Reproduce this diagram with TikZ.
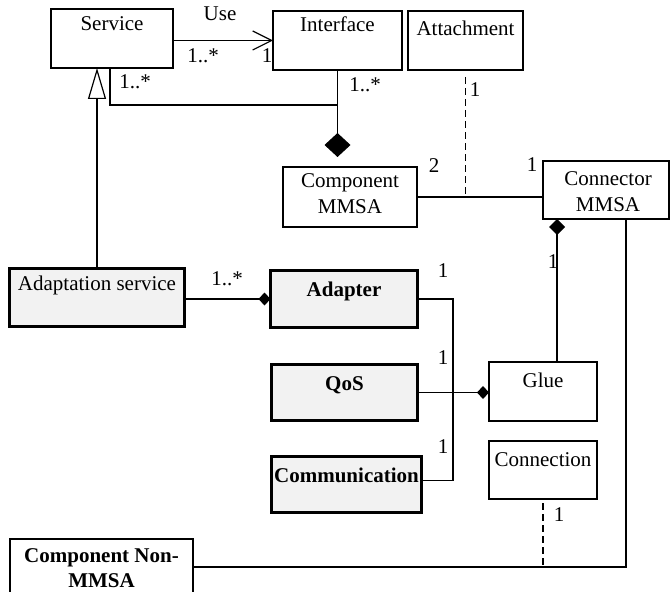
\documentclass[tikz,border=0pt]{standalone}
\usepackage{fontspec}
\setmainfont{Liberation Serif}
\usetikzlibrary{arrows.meta}
\tikzset{
  box/.style={draw,line width=1.2bp,inner sep=0pt,outer sep=0pt},
  hbox/.style={draw,line width=3bp,fill=black!5,inner sep=0pt,outer sep=0pt},
  txt/.style={anchor=base,inner sep=0pt,align=center},
  btxt/.style={txt,font=\fontsize{21bp}{25bp}\selectfont\bfseries},
  mult/.style={anchor=base,inner sep=0pt},
  conn/.style={line width=1.2bp},
  comp/.style={conn,-{Diamond[length=12bp,width=13bp]}},
}
\begin{document}
\begin{tikzpicture}[x=1bp,y=-1bp,font=\fontsize{21bp}{25bp}\selectfont]
  \useasboundingbox (0,0) rectangle (671,592);
  %% classes
  \node (Service) at (112,38.5) [box,minimum width=122bp,minimum height=59bp] {};
  \node (Interface) at (337.5,40.5) [box,minimum width=129bp,minimum height=59bp] {};
  \node (Attachment) at (465.5,40.5) [box,minimum width=115bp,minimum height=59bp] {};
  \node (CompMMSA) at (350,197) [box,minimum width=134bp,minimum height=60bp] {};
  \node (ConnMMSA) at (606,190) [box,minimum width=126bp,minimum height=58bp] {};
  \node (AdaptSvc) at (97,297.5) [hbox,minimum width=175bp,minimum height=58bp] {};
  \node (Adapter) at (344,299) [hbox,minimum width=147bp,minimum height=57bp] {};
  \node (QoS) at (344.5,392.5) [hbox,minimum width=146bp,minimum height=56bp] {};
  \node (Comm) at (346.5,484.5) [hbox,minimum width=150bp,minimum height=56bp] {};
  \node (Glue) at (543,391.5) [box,minimum width=108bp,minimum height=59bp] {};
  \node (Connection) at (543,470) [box,minimum width=108bp,minimum height=58bp] {};
  \node (CompNon) at (101.5,567) [box,minimum width=183bp,minimum height=56bp] {};
  %% class names
  \node (Service-t) at (112,31) [txt] {Service};
  \node (Interface-t) at (337.5,32) [txt] {Interface};
  \node (Attachment-t) at (465.5,36) [txt] {Attachment};
  \node (CompMMSA-t) at (350,213) [txt] {Component\\MMSA};
  \node (ConnMMSA-t) at (608,211) [txt] {Connector\\MMSA};
  \node (AdaptSvc-t) at (97,290) [txt] {Adaptation service};
  \node (Adapter-t) at (344,296) [btxt] {Adapter};
  \node (QoS-t) at (344.5,390) [btxt] {QoS};
  \node (Comm-t) at (346.5,482) [btxt] {Communication};
  \node (Glue-t) at (543,387) [txt] {Glue};
  \node (Connection-t) at (543,466) [txt] {Connection};
  \node (CompNon-t) at (101.5,587) [btxt] {Component Non-\\MMSA};
  %% associations
  \draw [conn,-{Straight Barb[length=19bp,width=19bp]}] (Service.east |- Interface.west) -- (Interface.west);
  \draw [conn,-{Triangle[open,fill=white,length=31bp,width=18bp]}] (AdaptSvc.north) -- (AdaptSvc.north |- Service.south);
  \draw [conn] ([xshift=-2bp]Service.south) |- (Interface.south |- 0,105);
  \coordinate (dia) at (Interface.south |- 0,157);
  \draw [conn,-{Diamond[length=24bp,width=26bp]}] (Interface.south) -- (dia);
  \draw [conn] (CompMMSA.east) -- (CompMMSA.east -| ConnMMSA.west);
  \draw [conn,dash pattern=on 7bp off 4bp] ([yshift=-7bp]Attachment.south) -- (Attachment.south |- CompMMSA.east);
  \draw [comp] (AdaptSvc.east |- Adapter.west) -- (Adapter.west);
  \coordinate (bus) at (453,390);
  \draw [conn] (Adapter.east) -| (bus) |- ([yshift=4bp]Comm.east);
  \draw [comp] (QoS.east) -- (QoS.east -| Glue.west);
  \draw [conn,-{Diamond[length=16bp,width=16bp]}] ([xshift=14bp]Glue.north) -- ([xshift=14bp]Glue.north |- ConnMMSA.south);
  \draw [conn] ([xshift=20bp]ConnMMSA.south) |- (CompNon.east);
  \draw [conn,dash pattern=on 7bp off 4bp] ([yshift=-4bp]Connection.south) -- (Connection.south |- CompNon.east);
  %% multiplicities
  \node (m-use) at (220,21) [mult] {Use};
  \node (m1) at (203,63) [mult] {1..*};
  \node (m2) at (267,63) [mult] {1};
  \node (m3) at (135,89) [mult] {1..*};
  \node (m4) at (365,92) [mult] {1..*};
  \node (m5) at (475,97) [mult] {1};
  \node (m6) at (434,173) [mult] {2};
  \node (m7) at (532,172) [mult] {1};
  \node (m8) at (227,285) [mult] {1..*};
  \node (m9) at (443,277) [mult] {1};
  \node (m10) at (443,364) [mult] {1};
  \node (m11) at (443,453) [mult] {1};
  \node (m12) at (553,268) [mult] {1};
  \node (m13) at (559,521) [mult] {1};
\end{tikzpicture}
\end{document}
